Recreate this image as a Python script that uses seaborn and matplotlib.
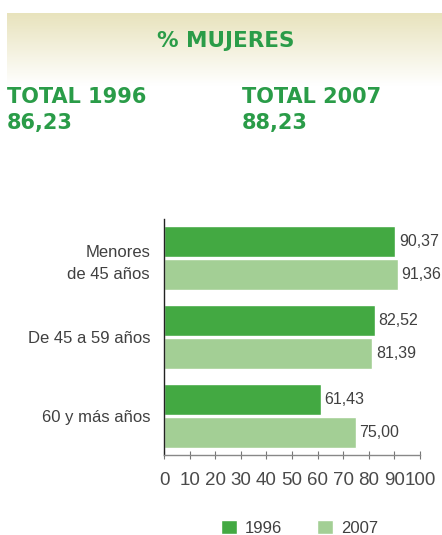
import numpy as np
import pandas as pd
import matplotlib
matplotlib.use("Agg")
import matplotlib.pyplot as plt
import seaborn as sns

# data
groups = ["Menores\nde 45 años", "De 45 a 59 años", "60 y más años"]
years = ["1996", "2007"]
vals_1996 = [90.37, 82.52, 61.43]
vals_2007 = [91.36, 81.39, 75.00]
total_1996 = "86,23"
total_2007 = "88,23"
x_ticks = [0, 10, 20, 30, 40, 50, 60, 70, 80, 90, 100]

dark_green = "#43a942"
light_green = "#a3cf95"
title_green = "#2a9c48"
text_grey = "#404040"

df = pd.DataFrame({
    "grupo": groups * 2,
    "anio": [years[0]] * 3 + [years[1]] * 3,
    "valor": vals_1996 + vals_2007,
})

sns.set_style("white")
plt.rcParams["font.family"] = ["Liberation Sans", "DejaVu Sans"]

fig = plt.figure(figsize=(4.42, 5.35), dpi=100)

# header band with gradient
hdr = fig.add_axes([7 / 442, 1 - 86 / 535, 435 / 442, 73 / 535])
grad = np.linspace(0, 1, 100).reshape(-1, 1)
top = np.array([0.91, 0.89, 0.74])
bot = np.array([1.0, 1.0, 1.0])
img = top[None, None, :] * (1 - grad[:, :, None]) + bot[None, None, :] * grad[:, :, None]
hdr.imshow(img, aspect="auto", extent=[0, 1, 0, 1])
hdr.axis("off")

head_font = dict(family="DejaVu Sans", fontweight="bold", color=title_green)
fig.text(226 / 442, 1 - 41 / 535, "% MUJERES", ha="center", va="center",
         fontsize=15.5, **head_font)
fig.text(7 / 442, 1 - 97 / 535, "TOTAL 1996", ha="left", va="center",
         fontsize=15, **head_font)
fig.text(7 / 442, 1 - 123 / 535, total_1996, ha="left", va="center",
         fontsize=15, **head_font)
fig.text(242 / 442, 1 - 97 / 535, "TOTAL 2007", ha="left", va="center",
         fontsize=15, **head_font)
fig.text(242 / 442, 1 - 123 / 535, total_2007, ha="left", va="center",
         fontsize=15, **head_font)

# bar chart
ax = fig.add_axes([164 / 442, 1 - 455 / 535, 256 / 442, 236 / 535])
sns.barplot(data=df, y="grupo", x="valor", hue="anio", orient="h",
            palette=[dark_green, light_green], width=0.84, gap=0.06,
            saturation=1, ax=ax, legend=True)

for cont in ax.containers:
    labels = [f"{v:.2f}".replace(".", ",") for v in cont.datavalues]
    ax.bar_label(cont, labels=labels, padding=2.5, fontsize=11.5, color=text_grey)

ax.set_xlim(0, 100)
ax.set_xticks(x_ticks)
ax.set_xlabel("")
ax.set_ylabel("")
ax.tick_params(axis="x", direction="inout", length=6, width=0.8, color="#777777",
               labelsize=13.5, labelcolor="#4a4a4a", pad=9, bottom=True)
ax.tick_params(axis="y", length=0, labelsize=12, labelcolor=text_grey, pad=10)
for lbl in ax.get_yticklabels():
    lbl.set_horizontalalignment("right")
    lbl.set_multialignment("right")
    lbl.set_linespacing(1.6)
sns.despine(ax=ax, top=True, right=True)
ax.spines["left"].set_color("#222222")
ax.spines["bottom"].set_color("#888888")
ax.spines["left"].set_linewidth(1)
ax.spines["bottom"].set_linewidth(1)

handles, leg_labels = ax.get_legend_handles_labels()
ax.get_legend().remove()
fig.legend(handles, leg_labels, loc="center left",
           bbox_to_anchor=(221 / 442, 1 - 528 / 535), borderaxespad=0, borderpad=0,
           ncol=2, frameon=False, fontsize=12, handlelength=0.95, handleheight=0.95,
           columnspacing=2.1, handletextpad=0.5, labelcolor=text_grey)

fig.savefig("out.png", dpi=100)
